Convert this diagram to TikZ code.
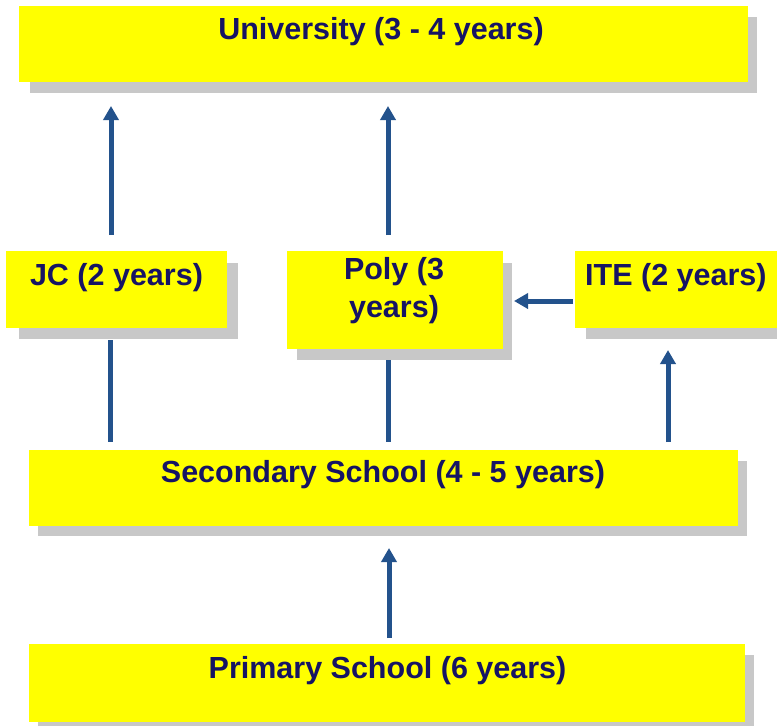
\documentclass[tikz,border=0pt]{standalone}
\usepackage{fontspec}
\setmainfont{Liberation Sans}
\usetikzlibrary{arrows.meta}
\definecolor{boxyellow}{RGB}{255,255,0}
\definecolor{shadowgray}{RGB}{200,200,200}
\definecolor{textnavy}{RGB}{22,20,100}
\definecolor{arrowblue}{RGB}{35,82,140}
\begin{document}
\begin{tikzpicture}[x=1pt,y=-1pt,
  shadowbox/.style={fill=shadowgray, draw=none, inner sep=0pt, outer sep=0pt},
  yellowbox/.style={fill=boxyellow, draw=none, inner sep=0pt, outer sep=0pt},
  lbl/.style={font=\bfseries\fontsize{30.5}{34}\selectfont, text=textnavy, inner sep=0pt, anchor=base},
  arr/.style={draw=arrowblue, line width=5pt, -{Triangle[length=14pt,width=15pt]}},
  plainline/.style={draw=arrowblue, line width=5pt}]
\useasboundingbox (0,0) rectangle (777,726);
\fill[white] (0,0) rectangle (777,726);
% University
\node[shadowbox, minimum width=727pt, minimum height=76pt] (unish) at (393.5,55) {};
\node[yellowbox, minimum width=729pt, minimum height=76pt] (uni) at (383.5,44) {};
\node[lbl] (unit) at (381,39) {University (3 - 4 years)};
% JC
\node[shadowbox, minimum width=219pt, minimum height=76pt] (jcsh) at (128.5,301) {};
\node[yellowbox, minimum width=221pt, minimum height=77pt] (jc) at (116.5,289.5) {};
\node[lbl] (jct) at (116.5,285) {JC (2 years)};
% Poly
\node[shadowbox, minimum width=215pt, minimum height=97pt] (polysh) at (404.5,311.5) {};
\node[yellowbox, minimum width=216pt, minimum height=98pt] (poly) at (395,300) {};
\node[lbl] (polyt1) at (394,279) {Poly (3};
\node[lbl] (polyt2) at (394,317) {years)};
% ITE
\node[shadowbox, minimum width=214pt, minimum height=76pt] (itesh) at (693,301) {};
\node[yellowbox, minimum width=215pt, minimum height=77pt] (ite) at (682.5,289.5) {};
\node[lbl, anchor=base west] (itet) at (585,285) {ITE (2 years)};
% Secondary
\node[shadowbox, minimum width=709pt, minimum height=75pt] (secsh) at (392.5,498.5) {};
\node[yellowbox, minimum width=709pt, minimum height=76pt] (sec) at (383.5,488) {};
\node[lbl] (sect) at (383,482) {Secondary School (4 - 5 years)};
% Primary
\node[shadowbox, minimum width=716pt, minimum height=78pt] (prish) at (396,694) {};
\node[yellowbox, minimum width=716pt, minimum height=78pt] (pri) at (387,683) {};
\node[lbl] (prit) at (387.5,678) {Primary School (6 years)};
% connector end points
\coordinate (jcup1) at (111,235);   \coordinate (jcup2) at (111,106);
\coordinate (polyup1) at (388,235); \coordinate (polyup2) at (388,106);
\coordinate (jcdn1) at (110,340);   \coordinate (jcdn2) at (110,442);
\coordinate (polydn1) at (388,360); \coordinate (polydn2) at (388,442);
\coordinate (iteup1) at (668,442);  \coordinate (iteup2) at (668,350);
\coordinate (itel1) at (573,301);   \coordinate (itel2) at (514,301);
\coordinate (priup1) at (389,638);  \coordinate (priup2) at (389,548);
% connectors
\draw[arr] (jcup1) -- (jcup2);
\draw[arr] (polyup1) -- (polyup2);
\draw[plainline] (jcdn1) -- (jcdn2);
\draw[plainline] (polydn1) -- (polydn2);
\draw[arr] (iteup1) -- (iteup2);
\draw[arr] (itel1) -- (itel2);
\draw[arr] (priup1) -- (priup2);
\end{tikzpicture}
\end{document}
